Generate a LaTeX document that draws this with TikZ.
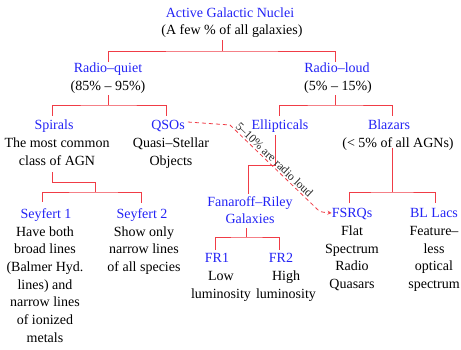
\documentclass[tikz,border=0pt]{standalone}
\usepackage{fontspec}
\setmainfont{Liberation Serif}
\definecolor{tblue}{RGB}{35,35,245}
\definecolor{lred}{RGB}{240,60,70}
\begin{document}
\begin{tikzpicture}[x=1pt,y=-1pt,
  title/.style={text=tblue, font=\fontsize{14}{17.7}\selectfont, inner sep=0pt, anchor=base},
  desc/.style={text=black, align=center, font=\fontsize{14}{17.7}\selectfont, inner sep=0pt, anchor=base},
  link/.style={draw=lred, line width=0.9pt},
  dlink/.style={draw=lred, line width=0.8pt, dash pattern=on 4pt off 3pt},
  small/.style={text=black!85, font=\fontsize{11.8}{13}\selectfont, inner sep=0pt}]
\path[use as bounding box] (0,0) rectangle (461,349);
% titles (multi-line nodes are placed by the baseline of their last line)
\node[title] (agn) at (230,17) {Active Galactic Nuclei};
\node[desc] (agnd) at (232,34.5) {(A few \% of all galaxies)};
\node[title] (rq) at (108,72.5) {Radio–quiet};
\node[desc] (rqd) at (108,90) {(85\% – 95\%)};
\node[title] (rl) at (337,72.5) {Radio–loud};
\node[desc] (rld) at (338,90) {(5\% – 15\%)};
\node[title] (sp) at (54,129.5) {Spirals};
\node[desc] (spd) at (57,165.2) {The most common\\class of AGN};
\node[title] (qso) at (168,129.5) {QSOs};
\node[desc] (qsod) at (171,165.2) {Quasi–Stellar\\Objects};
\node[title] (ell) at (280,129.5) {Ellipticals};
\node[title] (blz) at (389,129.5) {Blazars};
\node[desc] (blzd) at (398,147.5) {(< 5\% of all AGNs)};
\node[title] (sy1) at (46,218) {Seyfert 1};
\node[desc] (sy1d) at (45,342.2) {Have both\\broad lines\\(Balmer Hyd.\\lines) and\\narrow lines\\of ionized\\metals};
\node[title] (sy2) at (142,218) {Seyfert 2};
\node[desc] (sy2d) at (144,271.4) {Show only\\narrow lines\\of all species};
\node[title,align=center] (fr) at (250,223.7) {Fanaroff–Riley\\Galaxies};
\node[title] (fr1) at (217,262.5) {FR1};
\node[desc] (fr1d) at (221,298.2) {Low\\luminosity};
\node[title] (fr2) at (281,262.5) {FR2};
\node[desc] (fr2d) at (286,298.2) {High\\luminosity};
\node[title] (fsrq) at (352,217.5) {FSRQs};
\node[desc] (fsrqd) at (352,288.6) {Flat\\Spectrum\\Radio\\Quasars};
\node[title] (bll) at (434,217.5) {BL Lacs};
\node[desc] (blld) at (434,288.6) {Feature–\\less\\optical\\spectrum};
% connectors
\draw[link] (222,40) -- (222,51);
\draw[link] (rq.north) ++(0,-1) |- (222,51) -| (335,62);
\draw[link] (108,95) -- (108,105);
\draw[link] (sp.north) ++(-2,-4) |- (108,105) -| (166,116);
\draw[link] (335,95) -- (335,105);
\draw[link] (ell.north) ++(-1,-4) |- (335,105) -| (392,116);
\draw[link] (52,172) |- (95,182) -- (95,192);
\draw[link] (sy1.north) ++(-4,-6) |- (95,192) -| (141,203);
\draw[link] (275,135) |- (248,165) -- (248,194);
\draw[link] (392,148) -- (392,192);
\draw[link] (349,203) |- (392,192) -| (435,203);
\draw[link] (246,228) -- (246,237);
\draw[link] (215,250) |- (246,237) -| (279,250);
% dashed arrow
\coordinate (d1) at (230,125);
\coordinate (d2) at (316,208);
\draw[dlink,-stealth] (qso.east) ++(3,-4) -- (d1) -- (d2) .. controls (320,212) .. (fsrq.west |- 0,213);
\path (d1) -- (d2) node[small, pos=0.47, sloped, above=1.5pt] (lbl) {5–10\% are radio loud};
\end{tikzpicture}
\end{document}
